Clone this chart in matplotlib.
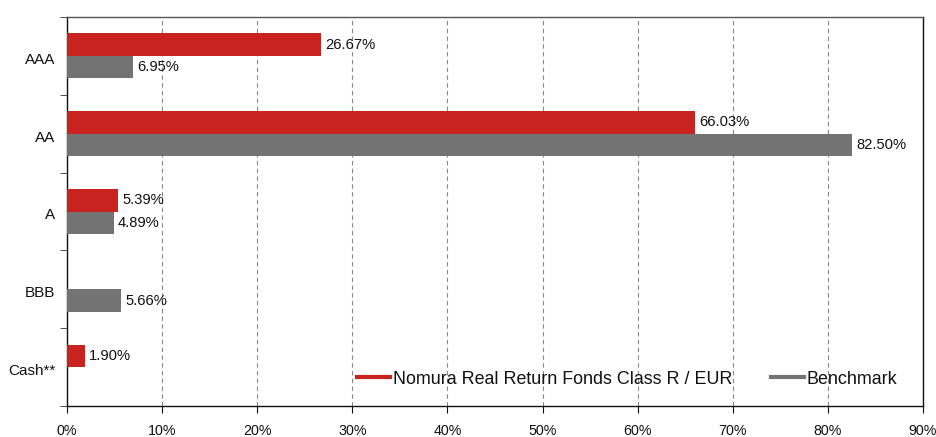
import matplotlib
matplotlib.use("Agg")
import matplotlib.pyplot as plt
import numpy as np
from matplotlib.lines import Line2D

plt.rcParams['font.family'] = ['Liberation Sans', 'DejaVu Sans']

categories = ["AAA", "AA", "A", "BBB", "Cash**"]
fund = [26.67, 66.03, 5.39, 0.0, 1.90]
bench = [6.95, 82.50, 4.89, 5.66, 0.0]
fund_name = "Nomura Real Return Fonds Class R / EUR"
bench_name = "Benchmark"
xticks = [0, 10, 20, 30, 40, 50, 60, 70, 80, 90]

red = "#c8231f"
gray = "#737373"
W, H = 937, 437

fig = plt.figure(figsize=(W/100, H/100), dpi=100)
ax = fig.add_axes([67/W, 1-406/H, (923-67)/W, (406-17)/H])

n = len(categories)
y = np.arange(n)
h = 0.29
ax.barh(y - h/2, fund, height=h, color=red, zorder=3)
ax.barh(y + h/2, bench, height=h, color=gray, zorder=3)

for yi, v in zip(y, fund):
    if v > 0:
        ax.text(v + 0.45, yi - h/2, f"{v:.2f}%", va="center", ha="left", fontsize=10.6, color="#111111", zorder=4)
for yi, v in zip(y, bench):
    if v > 0:
        ax.text(v + 0.45, yi + h/2, f"{v:.2f}%", va="center", ha="left", fontsize=10.6, color="#111111", zorder=4)

ax.set_ylim(n - 0.5, -0.5)
ax.set_xlim(0, 90)
ax.set_xticks(xticks)
ax.set_xticklabels([f"{t}%" for t in xticks], fontsize=10.3, color="#111111")
ax.set_yticks(y + 0.03)
ax.set_yticklabels(categories, fontsize=11, color="#111111")
ax.tick_params(axis='y', which='major', length=0, pad=8.5)
ax.set_yticks(np.arange(-0.5, n, 1), minor=True)
ax.tick_params(axis='y', which='minor', length=5, direction='out', color='#333333')
ax.tick_params(axis='x', length=5, direction='out', color='#111111', pad=8)

ax.xaxis.grid(True, linestyle=(0, (4, 3)), color="#888888", linewidth=0.8, zorder=0)
ax.set_axisbelow(True)

for s in ["left", "bottom", "right"]:
    ax.spines[s].set_color("#111111")
    ax.spines[s].set_linewidth(1.0)
ax.spines["top"].set_color("#555555")
ax.spines["top"].set_linewidth(1.0)

handles = [Line2D([0], [0], color=red, lw=3), Line2D([0], [0], color=gray, lw=3)]
leg = fig.legend(handles, [fund_name, bench_name], loc="center left",
                 bbox_to_anchor=(357/W, 1-379/H), ncol=2, frameon=False, fontsize=12.9,
                 handlelength=1.84, handletextpad=0.17, columnspacing=2.15, borderpad=0,
                 borderaxespad=0)
for t in leg.get_texts():
    t.set_color("#111111")

fig.savefig("out.png", dpi=100)
